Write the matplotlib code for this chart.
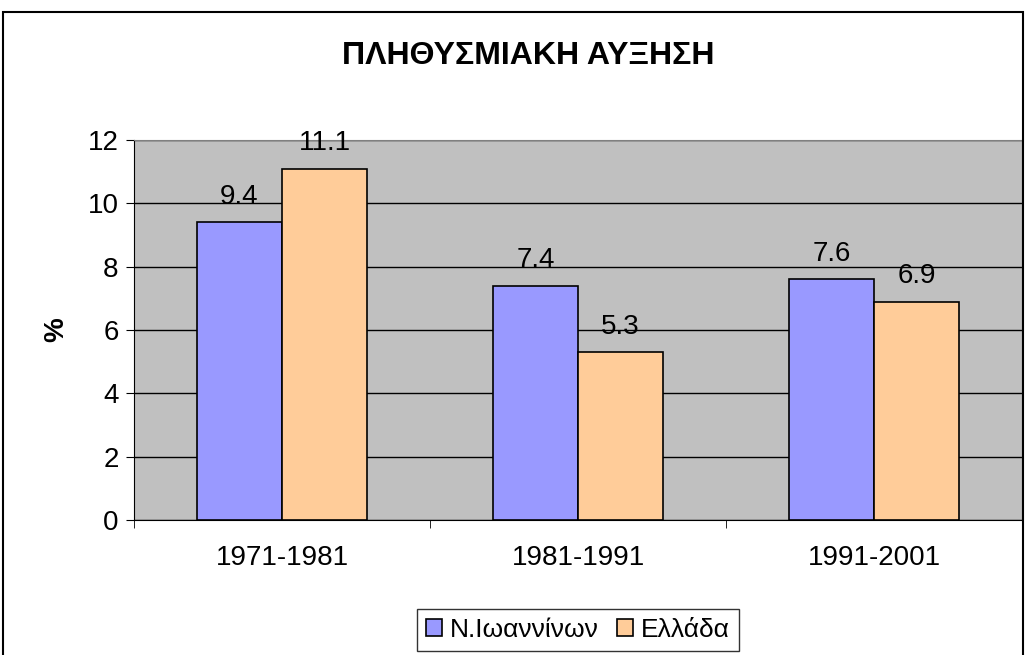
import matplotlib
matplotlib.use("Agg")
import matplotlib.pyplot as plt
import numpy as np
from matplotlib.patches import Rectangle

categories = ["1971-1981", "1981-1991", "1991-2001"]
ioannina = [9.4, 7.4, 7.6]
ellada = [11.1, 5.3, 6.9]
series_names = ["Ν.Ιωαννίνων", "Ελλάδα"]
title = "ΠΛΗΘΥΣΜΙΑΚΗ ΑΥΞΗΣΗ"

plt.rcParams['font.family'] = ['Liberation Sans', 'DejaVu Sans']

fig = plt.figure(figsize=(10.26, 6.55), dpi=100)
ax = fig.add_axes([134/1026, 1-520/655, (1022-134)/1026, 380/655])
ax.set_facecolor('#C0C0C0')

x = np.arange(len(categories))
w = 0.287
b1 = ax.bar(x - w/2, ioannina, w, color='#9999FF', edgecolor='black', linewidth=1.2, label=series_names[0], zorder=3)
b2 = ax.bar(x + w/2, ellada, w, color='#FFCC99', edgecolor='black', linewidth=1.2, label=series_names[1], zorder=3)

for bars, vals in ((b1, ioannina), (b2, ellada)):
    for r, v in zip(bars, vals):
        ax.annotate(f"{v:.1f}", (r.get_x() + r.get_width()/2, v), xytext=(0, 9),
                    textcoords='offset points', ha='center', va='bottom', fontsize=20, zorder=4)

ax.set_xlim(-0.5, len(categories) - 0.5)
ax.set_ylim(0, 12)
ax.set_yticks(np.arange(0, 13, 2))
ax.yaxis.grid(True, color='black', linewidth=1, zorder=1)
ax.set_axisbelow(True)
ax.set_xticks(x)
ax.set_xticklabels(categories, fontsize=20)
ax.tick_params(axis='x', length=0, pad=18)
ax.set_xticks(np.arange(-0.5, len(categories), 1), minor=True)
ax.tick_params(axis='x', which='minor', length=6, direction='out')
ax.tick_params(axis='y', labelsize=20, length=6, direction='out', pad=5)
for s in ['top', 'right']:
    ax.spines[s].set_color('#808080')
ax.spines['left'].set_color('black')
ax.spines['bottom'].set_color('black')

ax.set_ylabel('%', fontsize=20, fontweight='bold', labelpad=13)

fig.text(528/1026, 1-56/655, title, ha='center', va='center', fontsize=23, fontweight='bold')

leg = fig.legend(handles=[b1, b2], loc='center', bbox_to_anchor=(578/1026, 1-630/655),
                 ncol=2, fontsize=19, frameon=True, fancybox=False, edgecolor='black',
                 handlelength=0.6, handleheight=0.6, handletextpad=0.3, columnspacing=0.7,
                 borderpad=0.35, borderaxespad=0)
leg.get_frame().set_linewidth(1)

fig.patches.append(Rectangle((3/1026, -0.05), 1020/1026, 1.05 - 12/655, transform=fig.transFigure,
                             fill=False, edgecolor='black', linewidth=1.5))

fig.savefig('out.png', dpi=100)
